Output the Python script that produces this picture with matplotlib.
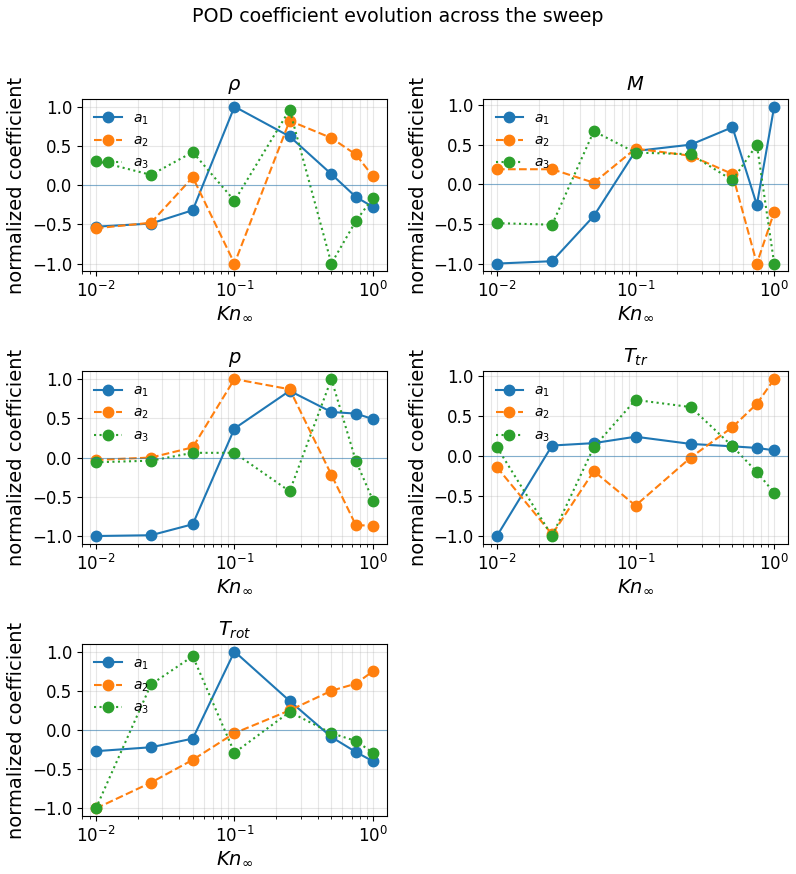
import matplotlib
matplotlib.use('Agg')

import matplotlib.pyplot as plt

# Knudsen numbers of the sweep
kn = [0.01, 0.025, 0.05, 0.1, 0.25, 0.5, 0.75, 1.0]

# normalized POD coefficients per field (a1, a2, a3)
rho_a1 = [-0.53, -0.49, -0.32, 1.00, 0.62, 0.14, -0.15, -0.28]
rho_a2 = [-0.55, -0.48, 0.10, -1.00, 0.82, 0.60, 0.39, 0.11]
rho_a3 = [0.31, 0.13, 0.42, -0.20, 0.96, -1.00, -0.46, -0.16]

mach_a1 = [-1.00, -0.97, -0.40, 0.42, 0.50, 0.72, -0.26, 0.98]
mach_a2 = [0.19, 0.19, 0.02, 0.45, 0.36, 0.13, -1.00, -0.35]
mach_a3 = [-0.49, -0.51, 0.67, 0.40, 0.38, 0.05, 0.50, -1.00]

p_a1 = [-1.00, -0.99, -0.85, 0.37, 0.85, 0.58, 0.56, 0.49]
p_a2 = [-0.03, 0.00, 0.13, 1.00, 0.87, -0.22, -0.86, -0.87]
p_a3 = [-0.06, -0.04, 0.06, 0.06, -0.43, 1.00, -0.04, -0.55]

ttr_a1 = [-1.00, 0.13, 0.16, 0.24, 0.15, 0.12, 0.10, 0.07]
ttr_a2 = [-0.14, -0.98, -0.19, -0.62, -0.02, 0.36, 0.65, 0.96]
ttr_a3 = [0.11, -1.00, 0.11, 0.70, 0.61, 0.12, -0.20, -0.46]

trot_a1 = [-0.27, -0.22, -0.11, 1.00, 0.37, -0.09, -0.28, -0.40]
trot_a2 = [-1.00, -0.67, -0.38, -0.04, 0.25, 0.50, 0.59, 0.75]
trot_a3 = [-1.00, 0.58, 0.94, -0.29, 0.23, -0.04, -0.14, -0.29]

titles = [r'$\rho$', r'$M$', r'$p$', r'$T_{tr}$', r'$T_{rot}$']
fields = [
    (rho_a1, rho_a2, rho_a3),
    (mach_a1, mach_a2, mach_a3),
    (p_a1, p_a2, p_a3),
    (ttr_a1, ttr_a2, ttr_a3),
    (trot_a1, trot_a2, trot_a3),
]
styles = ['-', '--', ':']
labels = [r'$a_1$', r'$a_2$', r'$a_3$']

fig, axes = plt.subplots(3, 2, figsize=(7.96, 8.74))
axes = axes.ravel()

for i, (title, coeffs) in enumerate(zip(titles, fields)):
    ax = axes[i]
    for vals, ls, lab in zip(coeffs, styles, labels):
        ax.plot(kn, vals, marker='o', markersize=7.5, linestyle=ls, label=lab)
    ax.axhline(0, linewidth=0.8, alpha=0.5)
    ax.set_xscale('log')
    ax.set_title(title, fontsize=14)
    ax.set_xlabel(r'$Kn_\infty$', fontsize=14, labelpad=2)
    ax.set_ylabel('normalized coefficient', fontsize=14)
    ax.tick_params(labelsize=12)
    ax.grid(True, which='both', alpha=0.3)
    ax.legend(fontsize=10, loc='upper left', frameon=False)

axes[-1].axis('off')

fig.suptitle('POD coefficient evolution across the sweep', fontsize=13.7, y=0.992)
# layout matched to a tight-cropped figure
fig.subplots_adjust(left=0.103, right=0.99, top=0.887, bottom=0.066,
                    wspace=0.315, hspace=0.578)
fig.savefig('out.png', dpi=100)
